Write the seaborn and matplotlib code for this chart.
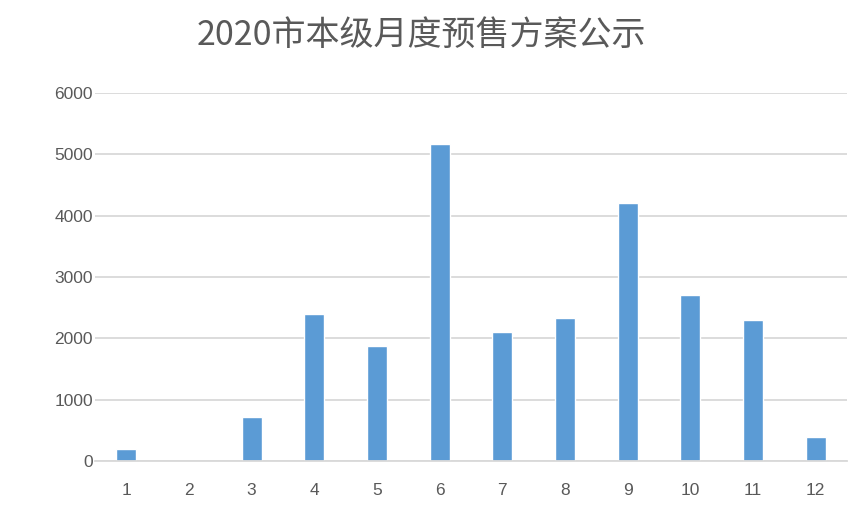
import matplotlib
matplotlib.use("Agg")
import matplotlib.pyplot as plt
import seaborn as sns
import pandas as pd

# 数据
months = ["1", "2", "3", "4", "5", "6", "7", "8", "9", "10", "11", "12"]
values = [190, 0, 718, 2398, 1876, 5170, 2104, 2333, 4208, 2708, 2300, 397]
yticks = [0, 1000, 2000, 3000, 4000, 5000, 6000]

df = pd.DataFrame({"month": months, "value": values})

sns.set_style("white")
plt.rcParams['font.family'] = ['Noto Sans CJK SC', 'DejaVu Sans']

fig = plt.figure(figsize=(8.48, 5.08), dpi=100)
ax = fig.add_axes([95 / 848, 47 / 508, 752 / 848, 368 / 508])

sns.barplot(data=df, x="month", y="value", color="#5B9BD5", width=0.32,
            saturation=1, ax=ax)

ax.set_ylim(0, 6000)
ax.set_xlim(-0.5, 11.5)
ax.set_yticks(yticks)
ax.yaxis.grid(True, color="#D9D9D9", linewidth=1.3)
ax.set_axisbelow(True)
for s in ["top", "right", "left"]:
    ax.spines[s].set_visible(False)
ax.spines["bottom"].set_color("#D9D9D9")
ax.spines["bottom"].set_linewidth(1.3)
ax.tick_params(axis="both", length=0, labelsize=12.5, labelcolor="#595959")
ax.tick_params(axis="x", pad=16)
ax.tick_params(axis="y", pad=1.5)
for lbl in ax.get_xticklabels() + ax.get_yticklabels():
    lbl.set_fontfamily(["Liberation Sans", "DejaVu Sans"])
ax.set_xlabel("")
ax.set_ylabel("")

fig.text(0.497, 0.93, "2020市本级月度预售方案公示", ha="center", va="center",
         fontsize=24.5, color="#595959")

fig.savefig("out.png", dpi=100)
